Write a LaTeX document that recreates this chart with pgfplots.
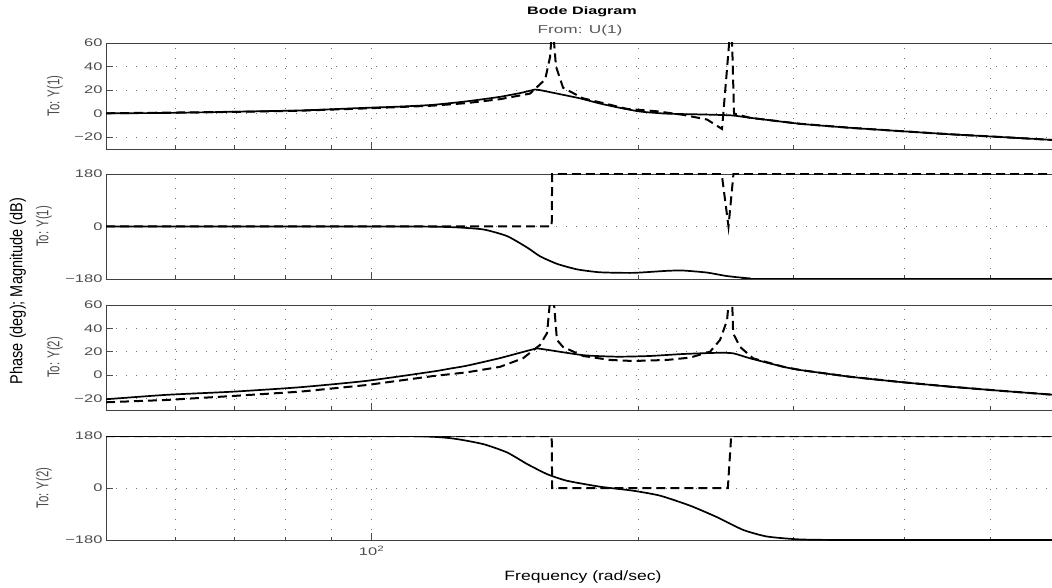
\documentclass[border=0pt]{standalone}
\usepackage{pgfplots}
\pgfplotsset{compat=1.18}
\usepackage{fontspec}
\setmainfont{Liberation Sans}
\newfontfamily\hfont[FakeStretch=1.5]{Liberation Sans}
\newfontfamily\xfont[FakeStretch=1.3]{Liberation Sans}
\pgfplotsset{
  myaxis/.style={
    scale only axis, width=948pt, xmin=50.12, xmax=590.4,
    axis line style={black!75, line width=0.8pt},
    xtick={100}, minor xtick={60,70,80,90,200,300,400,500},
    xmajorgrids, xminorgrids, ymajorgrids,
    grid style={black!55, line width=0.8pt, dash pattern=on 1.2pt off 8.8pt},
    minor grid style={black!55, line width=0.8pt, dash pattern=on 1.2pt off 8.8pt},
    tick align=inside, major tick length=7pt, minor tick length=3.5pt,
    ytick pos=left, xtick pos=bottom,
    tick style={black!70, line width=0.7pt},
    yticklabel style={font=\hfont\fontsize{11}{13}\selectfont, text=black!70},
    xticklabel style={font=\hfont\fontsize{11}{13}\selectfont, text=black!70, yshift=-3pt},
    xticklabels={},
    clip=true,
  },
  mymag/.style={myaxis, ymin=-30, ymax=60, ytick={-20,0,20,40,60}, yticklabels={−20,0,20,40,60},
    ylabel style={at={(axis description cs:-0.0538,0.5)}, anchor=center, rotate=-90, xscale=1.5, rotate=90, font=\fontsize{11.4}{13}\selectfont, text=black!70}},
  myph/.style={myaxis, ymin=-180, ymax=180, ytick={-180,0,180}, yticklabels={−180,0,180},
    ylabel style={at={(axis description cs:-0.0655,0.5)}, anchor=center, rotate=-90, xscale=1.5, rotate=90, font=\fontsize{11.4}{13}\selectfont, text=black!70}},
  mysol/.style={black, line width=1.7pt, no markers, smooth, tension=0.35},
  mydash/.style={black, line width=2pt, dash pattern=on 9pt off 5pt, no markers},
}
\begin{document}
\begin{tikzpicture}
\useasboundingbox (0pt,0pt) rectangle (1052pt,-588pt);
% Panel 1: To Y(1) magnitude
\begin{semilogxaxis}[mymag, at={(106pt,-43pt)}, anchor=north west, height=106pt, ylabel={To: Y(1)}]
\addplot[mysol] coordinates {(50.12,0.3) (58.7,0.6) (69.7,1.6) (83.0,2.7) (90.5,3.8) (98.8,5) (107.7,6) (117.4,7.5) (128.2,10.5) (139.7,14.3) (148.3,18) (153.0,20.5) (155.0,20) (164.6,16) (172.0,13) (181.2,8.6) (189.5,5.4) (201.1,1.8) (215.7,0) (239.4,-0.8) (255.5,-1.5) (267.7,-3.5) (304.9,-8.6) (347.3,-12) (395.6,-14.8) (450.5,-17.5) (513.1,-19.8) (590.4,-22.4)};
\addplot[mydash] coordinates {(50.12,0.3) (69.7,1.5) (83.0,2.5) (98.8,4.5) (117.4,6.8) (128.2,9) (139.7,12.3) (151.0,17) (157.1,29) (159.1,48) (159.9,70) (160.4,70) (161.6,40) (164.6,22) (173.4,13) (182.6,9) (194.5,4) (210.2,2) (224.9,-1) (239.4,-5) (248.9,-13) (254.2,70) (255.3,70) (256.8,0) (267.7,-3.5) (304.9,-8.6) (347.3,-12) (395.6,-14.8) (450.5,-17.5) (513.1,-19.8) (590.4,-22.4)};
\end{semilogxaxis}
% Panel 2: To Y(1) phase
\begin{semilogxaxis}[myph, at={(106pt,-174pt)}, anchor=north west, height=105pt, ylabel={To: Y(1)}]
\addplot[mysol] coordinates {(50.12,0) (107.7,0) (122.7,-2) (133.7,-10) (142.3,-33) (149.9,-72) (155.0,-102) (162.0,-128) (170.7,-147) (181.2,-157) (197.5,-159) (215.7,-152) (224.9,-151) (239.4,-158) (252.2,-170) (267.7,-178) (279.8,-180) (590.4,-180)};
\addplot[mydash] coordinates {(50.12,0) (159.8,0) (160.0,180) (248.7,180) (253.1,0) (256.4,180) (590.4,180)};
\end{semilogxaxis}
% Panel 3: To Y(2) magnitude
\begin{semilogxaxis}[mymag, at={(106pt,-305pt)}, anchor=north west, height=105pt, ylabel={To: Y(2)}]
\addplot[mysol] coordinates {(50.12,-20.8) (58.7,-17) (69.7,-14.3) (83.0,-10.5) (98.8,-5) (117.4,3) (122.7,5.5) (128.2,8) (139.7,14.5) (152.2,22) (155.0,22.5) (173.4,17) (189.5,15.7) (206.4,16.3) (224.9,18) (245.7,19) (256.2,18.6) (267.7,14.3) (291.7,7.1) (304.9,4.3) (347.3,-1.5) (395.6,-6) (450.5,-10) (513.1,-13.5) (590.4,-17)};
\addplot[mydash] coordinates {(50.12,-23.4) (58.7,-21.4) (69.7,-18) (83.0,-14.3) (98.8,-8.6) (117.4,-0.9) (128.2,2.3) (139.7,7) (148.3,14.3) (155.0,25.7) (157.9,36) (159.4,70) (160.4,70) (162.0,30) (164.6,24) (173.4,16.3) (186.0,12.9) (197.5,12) (215.7,12.9) (229.0,14.9) (241.3,20) (247.6,30) (252.2,47) (253.7,70) (255.4,70) (256.2,35.7) (260.9,24) (269.8,14.3) (291.7,7.1) (304.9,4.3) (347.3,-1.5) (395.6,-6) (450.5,-10) (513.1,-13.5) (590.4,-17)};
\end{semilogxaxis}
% Panel 4: To Y(2) phase
\begin{semilogxaxis}[myph, at={(106pt,-436pt)}, anchor=north west, height=104pt, ylabel={To: Y(2)}, xticklabels={10\textsuperscript{2}}]
\addplot[mysol] coordinates {(50.12,180) (107.7,180) (122.7,172.5) (133.7,152) (142.3,123) (149.9,83) (157.9,48) (166.3,25) (181.2,4.5) (197.5,-9.3) (211.9,-26.6) (229.0,-61) (245.7,-101) (262.9,-145) (279.8,-168) (304.9,-178) (347.3,-180) (590.4,-180)};
\addplot[mydash] coordinates {(50.12,180) (159.8,180) (160.0,0) (252.7,0) (254.9,180) (590.4,180)};
\end{semilogxaxis}
\node[font=\hfont\bfseries\fontsize{10.8}{13}\selectfont] at (582pt,-12pt) {Bode Diagram};
\node[font=\hfont\fontsize{11.5}{13}\selectfont, text=black!65] at (580pt,-31pt) {From: U(1)};
\node[font=\xfont\fontsize{13.5}{16}\selectfont] at (583pt,-577pt) {Frequency (rad/sec)};
\node[xscale=1.2, rotate=90, font=\fontsize{14.5}{16}\selectfont] at (18pt,-291pt) {Phase (deg); Magnitude (dB)};
\end{tikzpicture}
\end{document}
